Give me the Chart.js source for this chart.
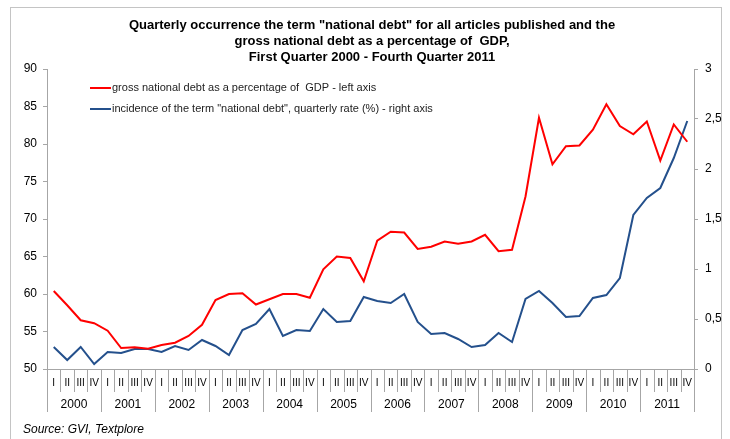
<!DOCTYPE html>
<html>
<head>
<meta charset="utf-8">
<script src="https://cdn.jsdelivr.net/npm/chart.js@4"></script>
<style>
  html, body { margin: 0; padding: 0; background: #fff; }
  #wrap { width: 730px; height: 439px; }
</style>
</head>
<body>
<div id="wrap"><canvas id="myChart" width="730" height="439"></canvas></div>
<script>
// quarters 2000 Q1 .. 2011 Q4
const years = ['2000', '2001', '2002', '2003', '2004', '2005', '2006', '2007', '2008', '2009', '2010', '2011'];
const quarterNames = ['I', 'II', 'III', 'IV'];
const quarters = years.flatMap(y => quarterNames.map(q => q + ' ' + y));

// gross national debt, % of GDP (left axis)
const debtGdp = [
  60.4, 58.5, 56.5, 56.1, 55.1, 52.8, 52.9, 52.7,
  53.2, 53.5, 54.4, 55.9, 59.2, 60.0, 60.1, 58.6,
  59.3, 60.0, 60.0, 59.5, 63.3, 65.0, 64.8, 61.7,
  67.1, 68.3, 68.2, 66.0, 66.3, 67.0, 66.7, 67.0,
  67.9, 65.7, 65.9, 73.0, 83.5, 77.3, 79.7, 79.8,
  81.9, 85.3, 82.4, 81.3, 83.0, 77.8, 82.6, 80.3
];

// incidence of the term "national debt", quarterly rate % (right axis)
const termRate = [
  0.22, 0.09, 0.22, 0.05, 0.17, 0.16, 0.20, 0.20,
  0.17, 0.23, 0.19, 0.29, 0.23, 0.14, 0.39, 0.45,
  0.60, 0.33, 0.39, 0.38, 0.60, 0.47, 0.48, 0.72,
  0.68, 0.66, 0.75, 0.47, 0.35, 0.36, 0.30, 0.22,
  0.24, 0.36, 0.27, 0.70, 0.78, 0.66, 0.52, 0.53,
  0.71, 0.74, 0.91, 1.54, 1.71, 1.81, 2.11, 2.48
];

const titleLines = [
  'Quarterly occurrence the term "national debt" for all articles published and the',
  'gross national debt as a percentage of  GDP,',
  'First Quarter 2000 - Fourth Quarter 2011'
];
const legendLabels = [
  'gross national debt as a percentage of  GDP - left axis',
  'incidence of the term "national debt", quarterly rate (%) - right axis'
];
const sourceText = 'Source: GVI, Textplore';

const FONT = "'Liberation Sans', Arial, sans-serif";
const RED = '#ff0000';
const BLUE = '#24508c';

// frame, title, legend, two-level x labels, source
const decor = {
  id: 'decor',
  beforeDraw(chart) {
    const c = chart.ctx;
    c.save();
    c.strokeStyle = '#c4c4c4';
    c.lineWidth = 1;
    c.strokeRect(10.5, 7.5, 711, 460);
    c.restore();
  },
  afterDraw(chart) {
    const c = chart.ctx;
    const x = chart.scales.x;
    const area = chart.chartArea;
    c.save();

    // title
    c.fillStyle = '#000';
    c.font = 'bold 13px ' + FONT;
    c.textAlign = 'center';
    c.textBaseline = 'middle';
    titleLines.forEach((t, i) => c.fillText(t, 372, 25 + i * 16));

    // legend inside plot
    c.font = '11px ' + FONT;
    c.textAlign = 'left';
    [RED, BLUE].forEach((col, i) => {
      const y = 88 + i * 21;
      c.strokeStyle = col;
      c.lineWidth = 2;
      c.beginPath();
      c.moveTo(90, y);
      c.lineTo(111, y);
      c.stroke();
      c.fillStyle = '#222';
      c.fillText(legendLabels[i], 112, y);
    });

    // category separators and labels
    const step = (area.right - area.left) / quarters.length;
    c.strokeStyle = '#a6a6a6';
    c.lineWidth = 1;
    for (let i = 0; i <= quarters.length; i++) {
      const px = Math.round(area.left + i * step) + 0.5;
      const long = i % 4 === 0;
      c.beginPath();
      c.moveTo(px, area.bottom);
      c.lineTo(px, long ? area.bottom + 43 : area.bottom + 23);
      c.stroke();
    }
    c.fillStyle = '#000';
    c.textAlign = 'center';
    c.font = '10px ' + FONT;
    quarters.forEach((q, i) => {
      c.fillText(quarterNames[i % 4], x.getPixelForValue(i), area.bottom + 14);
    });
    c.font = '12px ' + FONT;
    years.forEach((y, j) => {
      const mid = (x.getPixelForValue(j * 4) + x.getPixelForValue(j * 4 + 3)) / 2;
      c.fillText(y, mid, area.bottom + 36);
    });

    // source
    c.font = 'italic 12px ' + FONT;
    c.textAlign = 'left';
    c.fillText(sourceText, 23, 430);
    c.restore();
  }
};

const ctx = document.getElementById('myChart').getContext('2d');
new Chart(ctx, {
  type: 'line',
  data: {
    labels: quarters,
    datasets: [{
      label: legendLabels[0],
      data: debtGdp,
      yAxisID: 'y',
      borderColor: RED,
      borderWidth: 2,
      pointRadius: 0,
      tension: 0
    }, {
      label: legendLabels[1],
      data: termRate,
      yAxisID: 'y1',
      borderColor: BLUE,
      borderWidth: 2,
      pointRadius: 0,
      tension: 0
    }]
  },
  options: {
    responsive: false,
    animation: false,
    layout: { padding: { top: 69, bottom: 70, left: 0, right: 0 } },
    plugins: {
      legend: { display: false },
      title: { display: false },
      tooltip: { enabled: false }
    },
    scales: {
      x: {
        offset: true,
        ticks: { display: false },
        grid: { display: false },
        border: { display: true, color: '#a6a6a6' },
        afterFit(scale) { scale.height = 0; }
      },
      y: {
        position: 'left',
        min: 50,
        max: 90,
        ticks: {
          stepSize: 5,
          color: '#000',
          padding: 6,
          font: { family: FONT, size: 12 }
        },
        grid: { drawOnChartArea: false, drawTicks: true, tickLength: 4, color: '#a6a6a6' },
        border: { display: true, color: '#a6a6a6' },
        afterFit(scale) { scale.width = 47; }
      },
      y1: {
        position: 'right',
        min: 0,
        max: 3,
        ticks: {
          stepSize: 0.5,
          color: '#000',
          padding: 7,
          font: { family: FONT, size: 12 },
          callback: v => String(v).replace('.', ',')
        },
        grid: { drawOnChartArea: false, drawTicks: true, tickLength: 4, color: '#a6a6a6' },
        border: { display: true, color: '#a6a6a6' },
        afterFit(scale) { scale.width = 36; }
      }
    }
  },
  plugins: [decor]
});
</script>
</body>
</html>
